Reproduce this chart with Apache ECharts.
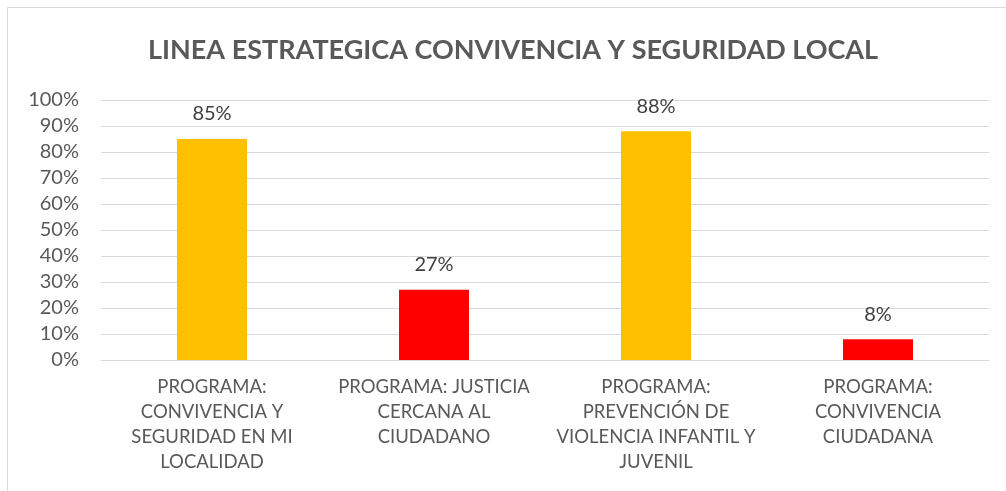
<!DOCTYPE html>
<html lang="es">
<head>
    <meta charset="UTF-8">
    <title>Linea estrategica</title>
    <script src="https://cdn.jsdelivr.net/npm/echarts@6/dist/echarts.min.js"></script>
    <style>
        html, body { margin: 0; padding: 0; background: #fff; }
        #main { width: 1006px; height: 491px; }
    </style>
</head>
<body>
    <div id="main"></div>
    <script>
        // datos del grafico
        var categorias = [
            'PROGRAMA:\nCONVIVENCIA Y\nSEGURIDAD EN MI\nLOCALIDAD',
            'PROGRAMA: JUSTICIA\nCERCANA AL\nCIUDADANO',
            'PROGRAMA:\nPREVENCIÓN DE\nVIOLENCIA INFANTIL Y\nJUVENIL',
            'PROGRAMA:\nCONVIVENCIA\nCIUDADANA'
        ];
        var valores = [0.85, 0.27, 0.88, 0.08];
        var colores = ['#FFC000', '#FF0000', '#FFC000', '#FF0000'];
        var titulo = 'LINEA ESTRATEGICA CONVIVENCIA Y SEGURIDAD LOCAL';

        var myChart = echarts.init(document.getElementById('main'));

        var datos = valores.map(function (v, i) {
            return { value: v, itemStyle: { color: colores[i] } };
        });

        myChart.setOption({
            animation: false,
            textStyle: { fontFamily: 'Lato' },
            title: {
                text: titulo,
                left: 143,
                top: 32,
                textStyle: { fontSize: 27, fontWeight: 'bold', color: '#595959', fontFamily: 'Lato' }
            },
            graphic: [{
                type: 'rect',
                shape: { x: 7.5, y: 7.5, width: 1020, height: 520 },
                style: { fill: 'none', stroke: '#D9D9D9', lineWidth: 1 },
                silent: true
            }],
            grid: { left: 101, right: 17, top: 100, bottom: 131 },
            xAxis: {
                type: 'category',
                data: categorias,
                axisLine: { show: true, lineStyle: { color: '#D9D9D9', width: 1 } },
                axisTick: { show: false },
                axisLabel: {
                    interval: 0,
                    color: '#595959',
                    fontSize: 18.5,
                    lineHeight: 25,
                    margin: 15
                }
            },
            yAxis: {
                type: 'value',
                min: 0,
                max: 1,
                interval: 0.1,
                axisLine: { show: false },
                axisTick: { show: false },
                splitLine: { lineStyle: { color: '#D9D9D9', width: 1 } },
                axisLabel: {
                    color: '#595959',
                    fontSize: 20,
                    margin: 22,
                    formatter: function (v) { return Math.round(v * 100) + '%'; }
                }
            },
            series: [{
                type: 'bar',
                data: datos,
                barWidth: 70,
                label: {
                    show: true,
                    position: 'top',
                    distance: 15,
                    color: '#404040',
                    fontSize: 20,
                    formatter: function (p) { return Math.round(p.value * 100) + '%'; }
                }
            }]
        });
    </script>
</body>
</html>
